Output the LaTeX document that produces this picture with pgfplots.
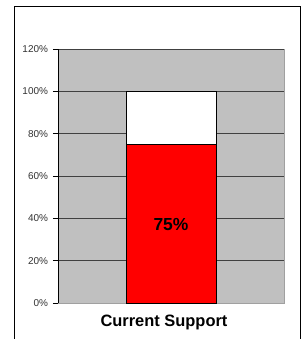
\documentclass[border=0pt]{standalone}
\usepackage{fontspec}
\setmainfont{Liberation Sans}
\usepackage{pgfplots}
\pgfplotsset{compat=1.18}
\definecolor{bggray}{HTML}{C0C0C0}
\definecolor{gridc}{HTML}{404040}
\definecolor{borderc}{HTML}{A0A0A0}
\begin{document}
\begin{tikzpicture}[x=1bp,y=1bp]
\useasboundingbox (0,0) rectangle (305,339);
\fill[white] (0,0) rectangle (305,339);
\draw[black, line width=1bp] (14,-5) -- (14,332) -- (300,332) -- (300,-5);
\begin{axis}[
  at={(58bp,36bp)}, anchor=south west,
  width=226bp, height=254bp, scale only axis,
  xmin=-1, xmax=1, ymin=0, ymax=120,
  ybar stacked, bar width=90bp,
  xtick=\empty,
  ytick={0,20,...,120},
  yticklabel={\pgfmathprintnumber{\tick}\%},
  yticklabel style={font=\fontsize{10}{11}\selectfont, text=black!80, /pgf/number format/assume math mode=true, xshift=-1.5bp},
  ymajorgrids,
  major grid style={gridc, line width=0.8bp},
  axis background/.style={fill=bggray, draw=borderc, line width=0.8bp},
  axis x line*=bottom, axis y line*=left,
  axis line style={-},
  x axis line style={borderc, line width=0.8bp},
  y axis line style={black, line width=0.8bp},
  tick align=outside, major tick length=5bp,
  ytick style={black, line width=0.8bp},
  xlabel={Current Support},
  xlabel style={font=\bfseries\fontsize{16.5}{19}\selectfont, at={(axis description cs:0.469,-0.075)}, anchor=center},
]
\addplot[fill=red, draw=black, line width=0.8bp] coordinates {(0,75)};
\addplot[fill=white, draw=black, line width=0.8bp] coordinates {(0,25)};
\end{axis}
\node[font=\bfseries\fontsize{17.5}{20}\selectfont] at (171,114) {75\%};
\end{tikzpicture}
\end{document}
